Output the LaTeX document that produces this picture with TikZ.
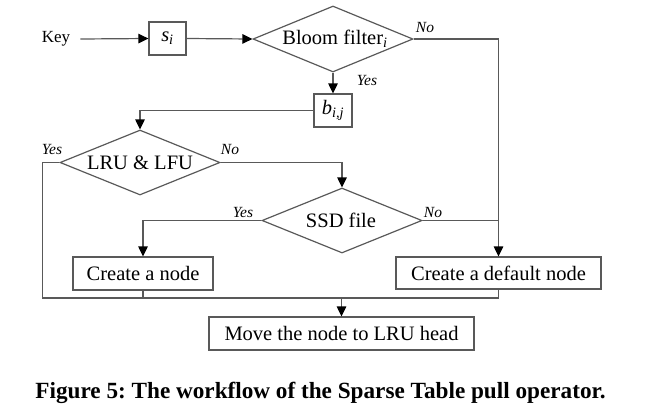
\documentclass[tikz,border=0pt]{standalone}
\usepackage{fontspec}
\setmainfont{Liberation Serif}
\usetikzlibrary{shapes.geometric,arrows.meta}
\frenchspacing
\begin{document}
\begin{tikzpicture}[x=1pt,y=-1pt,
  ln/.style={draw=black!65, line width=1.2pt},
  arr/.style={ln, -{Triangle[length=10pt,width=9.5pt,color=black]}},
  txt/.style={font=\fontsize{20.5}{24}\selectfont, inner sep=0pt},
  lab/.style={font=\itshape\fontsize{15.5}{18}\selectfont, inner sep=0pt},
  box/.style={ln, rectangle, inner sep=0pt, font=\fontsize{20.5}{24}\selectfont},
  dia/.style={ln, diamond, inner sep=0pt, minimum width=160pt, minimum height=65pt}]
\useasboundingbox (0,0) rectangle (648,416);
% nodes
\node[font=\fontsize{17}{20}\selectfont, inner sep=0pt] (key) at (56,39) {Key};
\node[box, minimum width=37pt, minimum height=33pt] (si) at (167.5,38.5) {\textit{s}\textsubscript{\textit{i}}};
\node[dia, minimum height=66pt] (bloom) at (333,39) {};
\node[txt] (bloomtxt) at (335,39) {Bloom filter\textsubscript{\textit{i}}};
\node[box, minimum width=38pt, minimum height=33pt] (bij) at (333,110.5) {\textit{b}\textsubscript{\textit{i,j}}};
\node[dia] (lru) at (140,162.5) {};
\node[txt] (lrutxt) at (140,162.5) {LRU \& LFU};
\node[dia] (ssd) at (342,220.5) {};
\node[txt] (ssdtxt) at (341,220.5) {SSD file};
\node[box, minimum width=140pt, minimum height=33pt] (cn) at (143,273.5) {Create a node};
\node[box, minimum width=205pt, minimum height=32pt] (def) at (498.5,273) {Create a default node};
\node[box, minimum width=265pt, minimum height=33pt] (move) at (341.5,333.5) {Move the node to LRU head};
\coordinate (join) at (341.5,298);
% labels
\node[lab] (l1) at (425,27) {No};
\node[lab] (l2) at (367,80) {Yes};
\node[lab] (l3) at (52,149) {Yes};
\node[lab] (l4) at (230,149) {No};
\node[lab] (l5) at (243,212) {Yes};
\node[lab] (l6) at (433,212) {No};
% connectors
\draw[arr] ([xshift=10pt]key.east) -- (si.west);
\draw[arr] (si.east) -- (bloom.west);
\draw[arr] (bloom.east) -| (def.north);
\draw[arr] (bloom.south) -- (bij.north);
\draw[arr] (bij.west) -| (lru.north);
\draw[arr] (lru.east) -| (ssd.north);
\draw[arr] (ssd.west) -| (cn.north);
\draw[ln] (ssd.east) -- (ssd.east -| def.north);
\draw[ln] (lru.west) -- ++(-17,0) |- (join);
\draw[ln] (cn.south) |- (join);
\draw[ln] (def.south) |- (join);
\draw[arr] (join) -- (move.north);
% caption
\node[font=\bfseries\fontsize{23.2}{27}\selectfont, inner sep=0pt] (cap) at (320.5,393) {Figure 5: The workflow of the Sparse Table pull operator.};
\end{tikzpicture}
\end{document}
